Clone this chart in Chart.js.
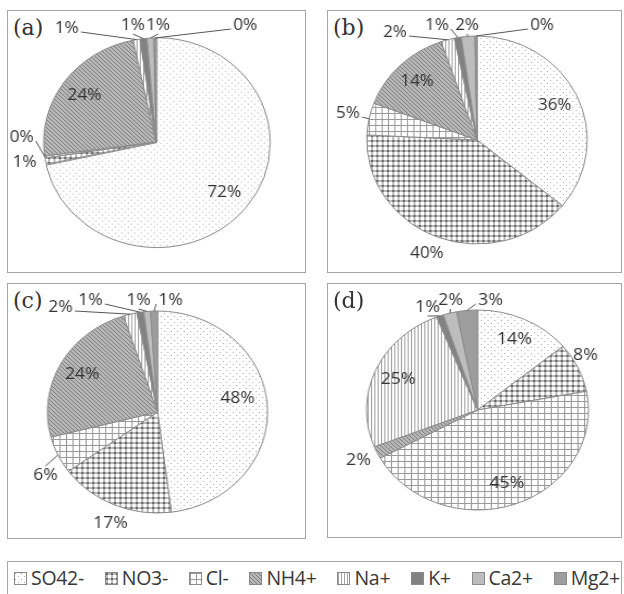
<!DOCTYPE html>
<html>
<head>
<meta charset="utf-8">
<title>Ion composition pies</title>
<script src="https://cdn.jsdelivr.net/npm/chart.js@4.4.1/dist/chart.umd.min.js"></script>
<style>
  body { margin: 0; background: #fff; width: 624px; height: 594px; position: relative; overflow: hidden; font-family: "Open Sans", sans-serif; }
  .panel { position: absolute; border: 1px solid #a6a6a6; box-sizing: border-box; }
  .tag { position: absolute; font-family: "DejaVu Serif", serif; font-size: 22px; line-height: 26px; color: #333; }
  canvas.pie { position: absolute; }
  #legend { position: absolute; left: 7px; top: 561px; width: 615px; height: 45px; border: 1px solid #a6a6a6; box-sizing: border-box;
            display: flex; justify-content: space-between; align-items: flex-start; padding: 3px 1px 0 6px; }
  .item { display: flex; align-items: center; font-size: 19.5px; line-height: 26px; color: #383838; letter-spacing: -0.3px; }
  .item canvas { margin-right: 4px; border: 1px solid #8a8a8a; }
</style>
</head>
<body>
<div id="legend"></div>
<script>
// categories and values (percent of total ions), panels a-d
const ions = ['SO42-', 'NO3-', 'Cl-', 'NH4+', 'Na+', 'K+', 'Ca2+', 'Mg2+'];
const shareA = [72, 1, 0.3, 24, 1, 1, 1, 0.3];
const shareB = [36, 40, 5, 14, 2, 1, 2, 0.3];
const shareC = [48, 17, 6, 24, 2, 1, 1, 1];
const shareD = [14, 8, 45, 2, 25, 1, 2, 3];
const panelTags = ['(a)', '(b)', '(c)', '(d)'];

// fill patterns, one per ion
function makePattern(size, draw) {
  var c = document.createElement('canvas');
  c.width = c.height = size;
  var g = c.getContext('2d');
  g.fillStyle = '#fff';
  g.fillRect(0, 0, size, size);
  draw(g, size);
  return g.createPattern(c, 'repeat');
}

var fills = [
  makePattern(6, function (g) { g.fillStyle = '#b0b0b0'; g.fillRect(0, 0, 1, 1); g.fillRect(3, 3, 1, 1); }),
  makePattern(5, function (g) {
    g.fillStyle = '#bababa'; g.fillRect(0, 0, 5, 2); g.fillRect(0, 0, 2, 5);
    g.fillStyle = '#686868'; g.fillRect(0, 0, 2, 2);
  }),
  makePattern(6, function (g) { g.fillStyle = '#9a9a9a'; g.fillRect(0, 0, 6, 1); g.fillRect(0, 0, 1, 6); }),
  makePattern(4, function (g) {
    g.fillStyle = '#b8b8b8'; g.fillRect(0, 0, 4, 4);
    g.fillStyle = '#7c7c7c';
    for (var i = 0; i < 4; i++) { g.fillRect(i, i, 1, 1); }
  }),
  makePattern(3, function (g) { g.fillStyle = '#a4a4a4'; g.fillRect(0, 0, 1, 3); }),
  '#828282',
  '#bdbdbd',
  '#9e9e9e'
];

// data labels: inside by default, explicit spots (page px from centre) for outside ones
var pieLabels = {
  id: 'pieLabels',
  afterDatasetsDraw: function (chart, args, opts) {
    var ctx = chart.ctx;
    var meta = chart.getDatasetMeta(0);
    var values = chart.data.datasets[0].data;
    ctx.save();
    ctx.font = '16px "Open Sans"';
    ctx.fillStyle = '#333';
    ctx.strokeStyle = '#555';
    ctx.lineWidth = 1;
    ctx.textAlign = 'center';
    ctx.textBaseline = 'middle';
    meta.data.forEach(function (arc, i) {
      var p = arc.getProps(['x', 'y', 'startAngle', 'endAngle', 'outerRadius'], true);
      var mid = (p.startAngle + p.endAngle) / 2;
      var text = Math.round(values[i]) + '%';
      var spot = opts.spots[i];
      var lx, ly;
      if (spot) {
        lx = p.x + spot[0] / opts.sx;
        ly = p.y + spot[1];
      } else {
        lx = p.x + Math.cos(mid) * p.outerRadius * 0.78;
        ly = p.y + Math.sin(mid) * p.outerRadius * 0.78;
      }
      if (spot && spot[2]) {
        var half = ctx.measureText(text).width / 2 + 2;
        var tx = p.x + Math.cos(mid) * p.outerRadius;
        var ty = p.y + Math.sin(mid) * p.outerRadius;
        var x0, y0;
        if (Math.abs(tx - lx) > half) {
          x0 = lx + Math.sign(tx - lx) * half;
          y0 = ly + 4;
        } else {
          x0 = lx;
          y0 = ly + Math.sign(ty - ly) * 9;
        }
        ctx.beginPath();
        ctx.moveTo(x0, y0);
        ctx.lineTo(tx, ty);
        ctx.stroke();
      }
      ctx.fillText(text, lx, ly);
    });
    ctx.restore();
  }
};

var panels = [
  { values: shareA, box: [7, 10, 299, 263], center: [156, 142], ry: 104, sx: 1.077, offset: [4, 0, 0, 0, 0, 0, 0, 0],
    spots: { 1: [-131, 20], 2: [-134, -5, 1], 4: [-89, -114, 1], 5: [-23, -117, 1], 6: [2, -117, 1], 7: [89, -117, 1] } },
  { values: shareB, box: [327, 10, 295, 263], center: [477, 140], ry: 104, sx: 1.06, offset: 0,
    spots: { 1: [-50, 113], 2: [-129, -27, 1], 4: [-82, -108, 1], 5: [-40, -115, 1], 6: [-10, -115, 1], 7: [65, -115, 1] } },
  { values: shareC, box: [7, 283, 299, 256], center: [157, 412], ry: 101, sx: 1.09, offset: 0,
    spots: { 0: [80, -14], 1: [-47, 111], 2: [-112, 63, 1], 4: [-97, -105, 1], 5: [-67, -112, 1], 6: [-19, -112, 1], 7: [13, -112, 1] } },
  { values: shareD, box: [327, 283, 295, 255], center: [477, 410], ry: 100, sx: 1.11, offset: 0,
    spots: { 1: [108, -55], 3: [-119, 50], 5: [-50, -103, 1], 6: [-27, -110, 1], 7: [13, -110, 1] } }
];

var canvasW = 300, canvasH = 270;

panels.forEach(function (cfg, k) {
  var box = document.createElement('div');
  box.className = 'panel';
  box.style.left = cfg.box[0] + 'px';
  box.style.top = cfg.box[1] + 'px';
  box.style.width = cfg.box[2] + 'px';
  box.style.height = cfg.box[3] + 'px';
  document.body.appendChild(box);

  var tag = document.createElement('div');
  tag.className = 'tag';
  tag.textContent = panelTags[k];
  tag.style.left = (cfg.box[0] + 6) + 'px';
  tag.style.top = (cfg.box[1] + 5) + 'px';
  document.body.appendChild(tag);

  // pie is an ellipse in the reference: stretch the canvas horizontally
  var cv = document.createElement('canvas');
  cv.className = 'pie';
  cv.width = canvasW;
  cv.height = canvasH;
  cv.style.width = (canvasW * cfg.sx) + 'px';
  cv.style.height = canvasH + 'px';
  cv.style.left = (cfg.center[0] - canvasW * cfg.sx / 2) + 'px';
  cv.style.top = (cfg.center[1] - canvasH / 2) + 'px';
  document.body.appendChild(cv);

  new Chart(cv, {
    type: 'pie',
    data: {
      labels: ions,
      datasets: [{
        data: cfg.values,
        backgroundColor: fills,
        borderColor: '#8a8a8a',
        borderWidth: 1,
        radius: cfg.ry,
        offset: cfg.offset
      }]
    },
    options: {
      responsive: false,
      animation: false,
      events: [],
      layout: { padding: 0 },
      plugins: {
        legend: { display: false },
        tooltip: { enabled: false },
        pieLabels: { spots: cfg.spots, sx: cfg.sx }
      }
    },
    plugins: [pieLabels]
  });
});

// shared legend
var legend = document.getElementById('legend');
ions.forEach(function (name, i) {
  var item = document.createElement('div');
  item.className = 'item';
  var sw = document.createElement('canvas');
  sw.width = 11;
  sw.height = 11;
  var g = sw.getContext('2d');
  g.fillStyle = fills[i];
  g.fillRect(0, 0, 11, 11);
  item.appendChild(sw);
  var span = document.createElement('span');
  span.textContent = name;
  item.appendChild(span);
  legend.appendChild(item);
});
</script>
</body>
</html>
